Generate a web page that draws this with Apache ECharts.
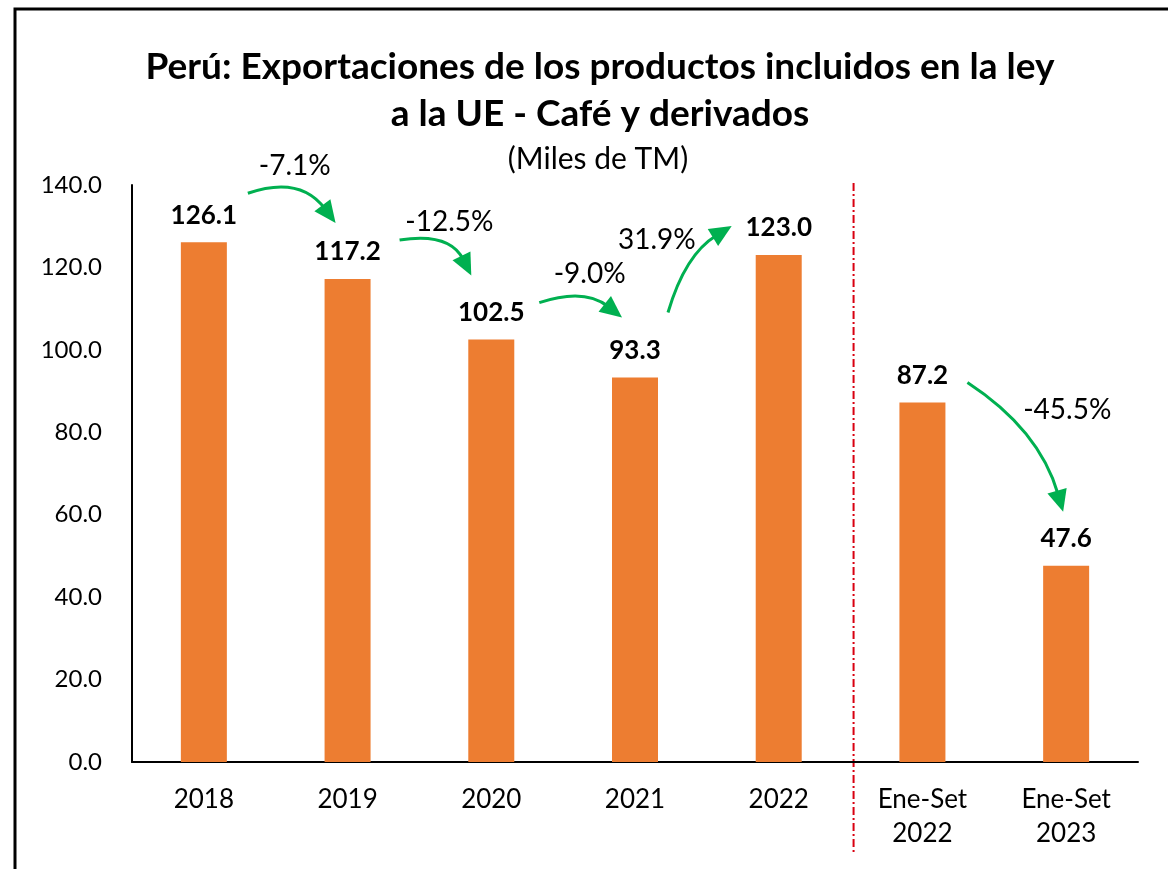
<!DOCTYPE html>
<html>
<head>
<meta charset="utf-8">
<script src="https://cdn.jsdelivr.net/npm/echarts@6/dist/echarts.min.js"></script>
<style>
  html, body { margin: 0; padding: 0; background: #fff; }
  #main { width: 1168px; height: 869px; }
</style>
</head>
<body>
<div id="main"></div>
<script>
// datos
var categorias = ['2018', '2019', '2020', '2021', '2022', 'Ene-Set\n2022', 'Ene-Set\n2023'];
var valores = [126.1, 117.2, 102.5, 93.3, 123.0, 87.2, 47.6];
var variaciones = ['-7.1%', '-12.5%', '-9.0%', '31.9%', '-45.5%'];
// pares de barras que une cada flecha
var flechaDesde = [0, 1, 2, 3, 5];
var flechaHasta = [1, 2, 3, 4, 6];

var FONT = 'Lato';
var VERDE = '#00B050';

var chart = echarts.init(document.getElementById('main'), null, { renderer: 'canvas' });

var option = {
  backgroundColor: '#fff',
  animation: false,
  title: [{
    text: 'Perú: Exportaciones de los productos incluidos en la ley\na la UE - Café y derivados',
    left: 595,
    top: 39,
    textAlign: 'center',
    textStyle: { fontFamily: FONT, fontWeight: 'bold', fontSize: 37, lineHeight: 47, color: '#000' }
  }, {
    text: '(Miles de TM)',
    left: 593,
    top: 139,
    textAlign: 'center',
    textStyle: { fontFamily: FONT, fontWeight: 'normal', fontSize: 30, color: '#000' }
  }],
  grid: { left: 132, right: 30, top: 185, bottom: 107 },
  xAxis: {
    type: 'category',
    data: categorias,
    axisLine: { lineStyle: { color: '#000', width: 2 } },
    axisTick: { show: false },
    axisLabel: { fontFamily: FONT, fontSize: 26, color: '#000', margin: 21, lineHeight: 34 }
  },
  yAxis: {
    type: 'value',
    min: 0,
    max: 140,
    interval: 20,
    axisLine: { show: true, lineStyle: { color: '#000', width: 2 } },
    axisTick: { show: false },
    splitLine: { show: false },
    axisLabel: {
      fontFamily: FONT, fontSize: 24, color: '#000', margin: 30,
      formatter: function (v) { return v.toFixed(1); }
    }
  },
  series: [{
    type: 'bar',
    data: valores,
    barWidth: 46,
    itemStyle: { color: '#ED7D31' },
    label: {
      show: true,
      position: 'top',
      distance: 14,
      fontFamily: FONT,
      fontWeight: 'bold',
      fontSize: 26,
      color: '#000',
      formatter: function (p) { return p.value.toFixed(1); }
    }
  }]
};
chart.setOption(option);

// posiciones de las flechas relativas a la cima de cada barra (px)
var offInicio = [[44, -49], [52, -39], [48, -37], [33, -65], [45, -20]];
var offFin = [[-12, -56], [-20, -64], [-13, -60], [-47, -29], [-3, -54]];
// punto de control relativo al inicio de la flecha (px)
var ctrl = [[52, -18], [50, -8], [45, -15], [17, -58], [72, 47]];
var offTexto = [[3, -42], [14, -36], [9, -36], [-43, -29], [52, -37]];

function px(i) {
  return chart.convertToPixel({ seriesIndex: 0 }, [i, valores[i]]);
}

var elementos = [];
// marco
elementos.push({
  type: 'rect',
  shape: { x: 15, y: 9, width: 1200, height: 900 },
  style: { fill: 'none', stroke: '#000', lineWidth: 3 },
  silent: true
});

// línea divisoria roja
var xa = chart.convertToPixel({ xAxisIndex: 0 }, 4);
var xb = chart.convertToPixel({ xAxisIndex: 0 }, 5);
var xDiv = (xa + xb) / 2 + 3;
var yTop = chart.convertToPixel({ yAxisIndex: 0 }, 140);
elementos.push({
  type: 'line',
  shape: { x1: xDiv, y1: yTop - 2, x2: xDiv, y2: 853 },
  style: { stroke: '#D80010', lineWidth: 2, lineDash: [8, 3, 2, 3] },
  silent: true
});

for (var k = 0; k < variaciones.length; k++) {
  var a = px(flechaDesde[k]);
  var b = px(flechaHasta[k]);
  var x1 = a[0] + offInicio[k][0], y1 = a[1] + offInicio[k][1];
  var x2 = b[0] + offFin[k][0], y2 = b[1] + offFin[k][1];
  var cx = x1 + ctrl[k][0], cy = y1 + ctrl[k][1];
  // tangente al final
  var tx = x2 - cx, ty = y2 - cy;
  var L = Math.sqrt(tx * tx + ty * ty);
  tx /= L; ty /= L;
  var head = 22, half = 10;
  var bx = x2 - tx * head, by = y2 - ty * head;
  elementos.push({
    type: 'bezierCurve',
    shape: { x1: x1, y1: y1, x2: bx + tx * 4, y2: by + ty * 4, cpx1: cx, cpy1: cy },
    style: { stroke: VERDE, lineWidth: 3, fill: 'none' },
    silent: true
  });
  elementos.push({
    type: 'polygon',
    shape: { points: [[x2, y2], [bx - ty * half, by + tx * half], [bx + ty * half, by - tx * half]] },
    style: { fill: VERDE },
    silent: true
  });
  elementos.push({
    type: 'text',
    x: (x1 + x2) / 2 + offTexto[k][0],
    y: (y1 + y2) / 2 + offTexto[k][1],
    style: {
      text: variaciones[k], fontFamily: FONT, fontSize: 28, fill: '#000',
      align: 'center', verticalAlign: 'middle'
    },
    silent: true
  });
}

chart.setOption({ graphic: { elements: elementos } });
</script>
</body>
</html>
